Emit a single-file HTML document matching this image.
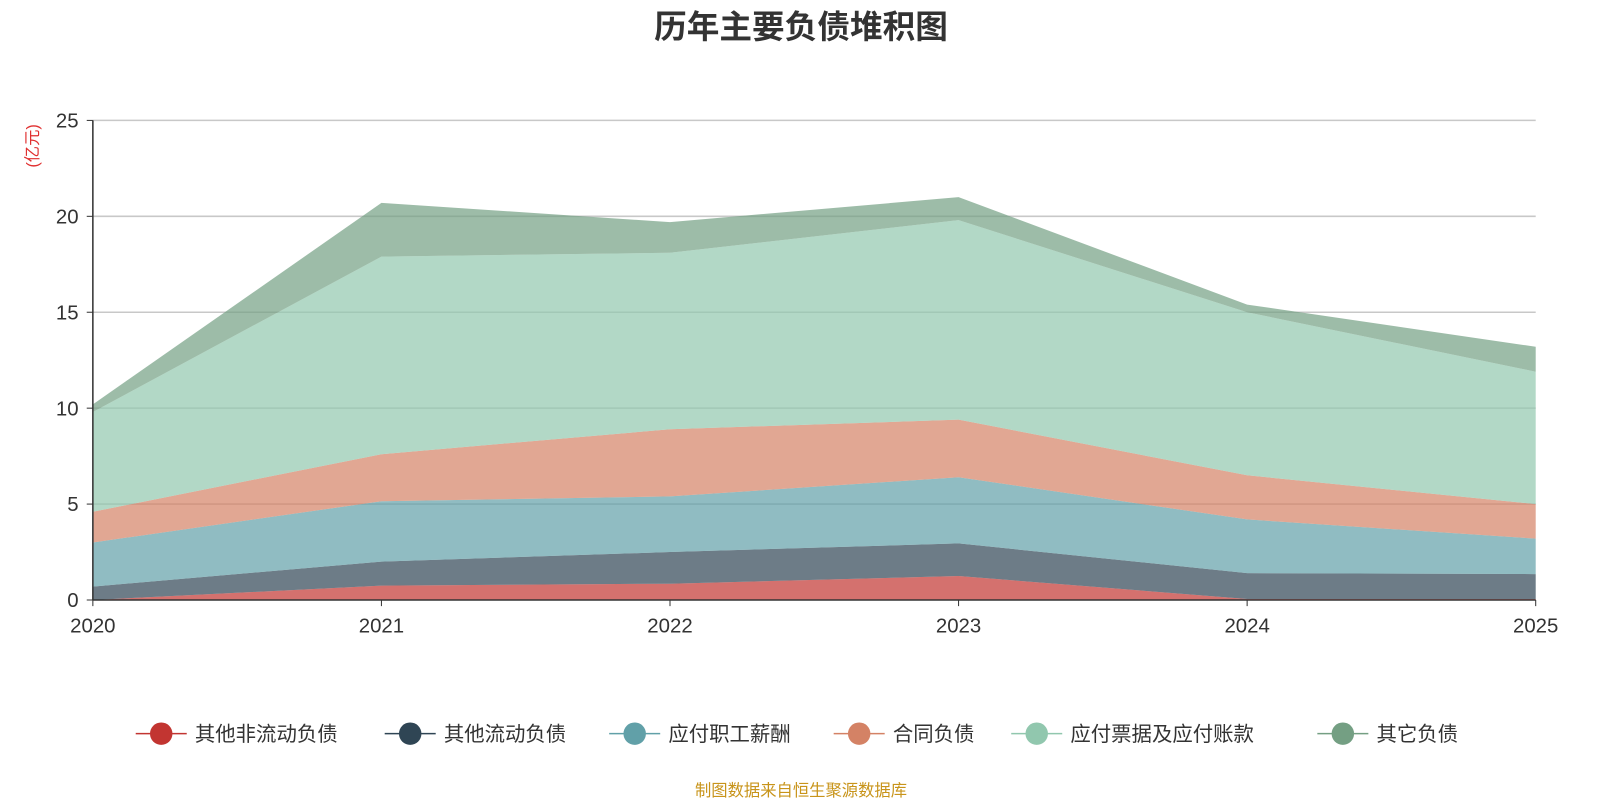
<!DOCTYPE html>
<html><head><meta charset="utf-8">
<style>
body{margin:0;background:#fff;width:1600px;height:800px;overflow:hidden;font-family:"Liberation Sans","Noto Sans CJK SC",sans-serif}
</style></head>
<body>
<svg id="chart" width="1600" height="800" xmlns="http://www.w3.org/2000/svg">
<g transform="scale(1.0204)">
<text x="785" y="37" text-anchor="middle" font-size="32" font-weight="bold" fill="#333" font-family="Liberation Sans, Noto Sans CJK SC, sans-serif">历年主要负债堆积图</text>
<text transform="translate(37,143) rotate(-90)" text-anchor="middle" font-size="16" fill="#e03030" font-family="Liberation Sans, Noto Sans CJK SC, sans-serif">(亿元)</text>
<g id="grid"></g><g id="areas"></g><g id="axes"></g><g id="legend"></g>
<text x="785" y="780" text-anchor="middle" font-size="16" fill="#c8941a" font-family="Liberation Sans, Noto Sans CJK SC, sans-serif">制图数据来自恒生聚源数据库</text>
</g>
</svg>
<script>
const years=["2020","2021","2022","2023","2024","2025"];
const seriesNames=["其他非流动负债","其他流动负债","应付职工薪酬","合同负债","应付票据及应付账款","其它负债"];
const s1=[0,0.75,0.85,1.25,0.05,0.05];
const s2=[0.7,1.25,1.65,1.7,1.35,1.3];
const s3=[2.3,3.15,2.9,3.45,2.8,1.85];
const s4=[1.6,2.45,3.5,3.0,2.3,1.8];
const s5=[5.2,10.3,9.2,10.4,8.5,6.9];
const s6=[0.4,2.8,1.6,1.2,0.4,1.3];
const yTicks=[0,5,10,15,20,25];
const colors=["#c23531","#2f4554","#61a0a8","#d48265","#91c7ae","#749f83"];
const NS="http://www.w3.org/2000/svg";
const X0=91,X1=1505,Y0=588,Y1=118,YMAX=25;
const xs=i=>X0+(X1-X0)*i/(years.length-1);
const ys=v=>Y0-(Y0-Y1)*v/YMAX;
function mk(t,a,p){const e=document.createElementNS(NS,t);for(const k in a)e.setAttribute(k,a[k]);p.appendChild(e);return e;}
const grid=document.getElementById('grid'),areas=document.getElementById('areas'),axes=document.getElementById('axes'),legend=document.getElementById('legend');
const FF="Liberation Sans, Noto Sans CJK SC, sans-serif";
yTicks.forEach(t=>{
 if(t>0){const l=mk('line',{x1:X0,x2:X1,y1:ys(t),y2:ys(t),stroke:'#c8c8c8','stroke-width':1.5},grid);
 }
 const tk=mk('line',{x1:X0-6,x2:X0,y1:ys(t),y2:ys(t),stroke:'#333'},axes);
 
 const tx=mk('text',{x:X0-14,y:ys(t)+7,'text-anchor':'end','font-size':20,fill:'#333','font-family':FF},axes);
 tx.textContent=t;
});
const all=[s1,s2,s3,s4,s5,s6];
let base=years.map(()=>0);
all.forEach((s,k)=>{
 const top=base.map((b,i)=>b+s[i]);
 let d='M'+top.map((v,i)=>xs(i)+','+ys(v)).join(' L');
 for(let i=years.length-1;i>=0;i--)d+=' L'+xs(i)+','+ys(base[i]);
 const p=mk('path',{d:d+'Z',fill:colors[k],'fill-opacity':0.7},areas);
 
 base=top;
});
const ax=mk('line',{x1:X0,x2:X0,y1:Y1,y2:Y0,stroke:'#333','stroke-width':1.5},axes);

const bx=mk('line',{x1:X0,x2:X1,y1:Y0,y2:Y0,stroke:'#333','stroke-width':1.5},axes);

years.forEach((y,i)=>{
 const tk=mk('line',{x1:xs(i),x2:xs(i),y1:Y0,y2:Y0+6,stroke:'#333'},axes);
 
 const tx=mk('text',{x:xs(i),y:620,'text-anchor':'middle','font-size':20,fill:'#333','font-family':FF},axes);
 tx.textContent=y;
});
const lx=[133,377,597,817,991,1291];
seriesNames.forEach((n,k)=>{
 const g=mk('g',{},legend);
 
 mk('line',{x1:lx[k],x2:lx[k]+50,y1:719,y2:719,stroke:colors[k],'stroke-width':1.5},g);
 mk('circle',{cx:lx[k]+25,cy:719,r:11,fill:colors[k]},g);
 const t=mk('text',{x:lx[k]+58,y:726,'font-size':20,fill:'#333','font-family':FF},g);t.textContent=n;
});
</script>
</body></html>
